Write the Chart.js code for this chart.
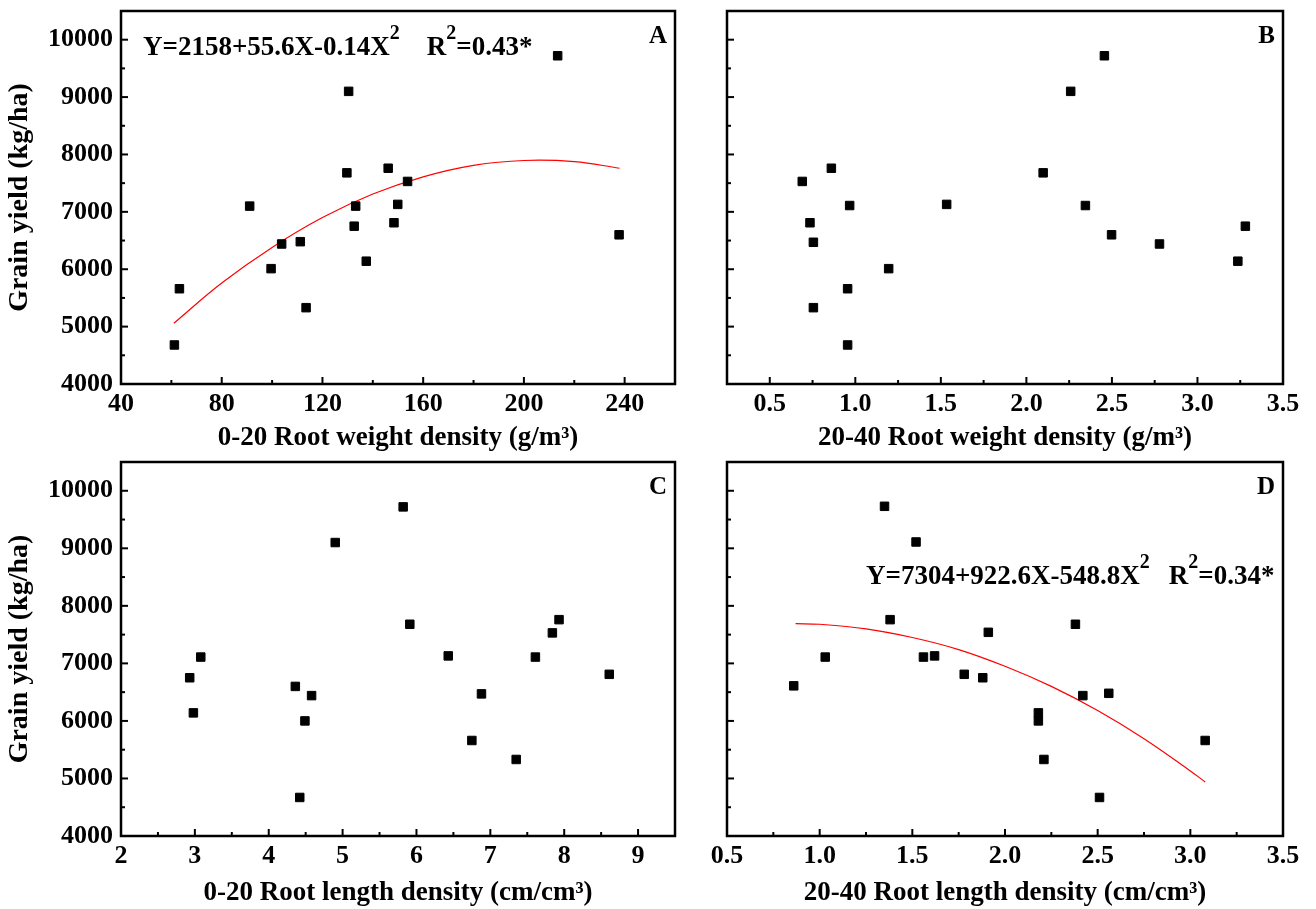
<!DOCTYPE html>
<html>
<head>
<meta charset="utf-8">
<title>Grain yield vs root density</title>
<script src="https://cdn.jsdelivr.net/npm/chart.js@4.4.1/dist/chart.umd.min.js"></script>
<style>
  html, body { margin: 0; padding: 0; background: #fff; }
  #wrap { position: relative; width: 1316px; height: 909px; overflow: hidden; }
  canvas { position: absolute; }
</style>
</head>
<body>
<div id="wrap">
  <canvas id="cA" width="690" height="460" style="left:0;top:0"></canvas>
  <canvas id="cB" width="626" height="460" style="left:690px;top:0"></canvas>
  <canvas id="cC" width="690" height="469" style="left:0;top:440px"></canvas>
  <canvas id="cD" width="626" height="469" style="left:690px;top:440px"></canvas>
</div>
<script>
// --- data ---
// A: 0-20 cm root weight density (g/m3)
const rwd020 = [61.2, 63.2, 91.1, 99.6, 103.8, 111.2, 113.5, 129.7, 130.4, 132.6, 133.2, 137.4, 146.1, 148.4, 149.9, 153.8, 213.4, 237.8];
const yieldA = [4680, 5660, 7100, 6010, 6440, 6480, 5330, 7680, 9100, 6750, 7100, 6140, 7760, 6810, 7130, 7530, 9720, 6600];
// B: 20-40 cm root weight density (g/m3)
const rwd2040 = [0.69, 0.735, 0.755, 0.755, 0.86, 0.955, 0.955, 0.967, 1.195, 1.534, 2.098, 2.259, 2.345, 2.456, 2.498, 2.778, 3.236, 3.28];
const yieldB = [7530, 6810, 6470, 5330, 7760, 5660, 4680, 7110, 6010, 7130, 7680, 9100, 7110, 9720, 6600, 6440, 6140, 6750];
// C: 0-20 cm root length density (cm/cm3)
const rld020 = [2.93, 2.98, 3.08, 4.36, 4.42, 4.49, 4.58, 4.90, 5.82, 5.91, 6.43, 6.75, 6.88, 7.35, 7.61, 7.84, 7.93, 8.61];
const yieldC = [6750, 6140, 7110, 6600, 4670, 6000, 6440, 9100, 9720, 7680, 7130, 5660, 6470, 5330, 7110, 7530, 7760, 6810];
// D: 20-40 cm root length density (cm/cm3)
const rld2040 = [0.86, 1.03, 1.35, 1.38, 1.52, 1.56, 1.62, 1.78, 1.88, 1.91, 2.18, 2.18, 2.21, 2.38, 2.42, 2.51, 2.56, 3.08];
const yieldD = [6610, 7110, 9730, 7760, 9110, 7110, 7130, 6810, 6750, 7540, 6140, 6000, 5330, 7680, 6440, 4670, 6480, 5660];

// red fitted curves
const fitAx = [61, 80, 100, 120, 140, 160, 180, 200, 220, 238];
const fitAy = [5060, 5760, 6380, 6900, 7310, 7610, 7810, 7895, 7875, 7760];
const fitDx = [0.87, 1.0, 1.25, 1.5, 1.75, 2.0, 2.25, 2.5, 2.75, 3.0, 3.08];
const fitDy = [7690, 7680, 7600, 7450, 7240, 6950, 6600, 6180, 5690, 5130, 4940];

// tick values
const yTicks = [4000, 5000, 6000, 7000, 8000, 9000, 10000];
const xTicksA = [40, 80, 120, 160, 200, 240];
const xTicksB = [0.5, 1.0, 1.5, 2.0, 2.5, 3.0, 3.5];
const xTicksC = [2, 3, 4, 5, 6, 7, 8, 9];
const xTicksD = [0.5, 1.0, 1.5, 2.0, 2.5, 3.0, 3.5];

const yTitle = 'Grain yield (kg/ha)';
const xTitles = ['0-20 Root weight density (g/m³)', '20-40 Root weight density (g/m³)',
                 '0-20 Root length density (cm/cm³)', '20-40 Root length density (cm/cm³)'];

const FONT = 'Liberation Serif';

function pts(xs, ys) {
  return xs.map((x, i) => ({ x: x, y: ys[i] }));
}

// frame around plot + inward major/minor ticks
const frameTicks = {
  id: 'frameTicks',
  afterDraw(chart) {
    const { ctx, chartArea: a, scales } = chart;
    ctx.save();
    ctx.strokeStyle = '#000';
    ctx.lineWidth = 2;
    function mark(scale, horiz, v, len) {
      const p = scale.getPixelForValue(v);
      ctx.beginPath();
      if (horiz) { ctx.moveTo(p, a.bottom); ctx.lineTo(p, a.bottom - len); }
      else { ctx.moveTo(a.left, p); ctx.lineTo(a.left + len, p); }
      ctx.stroke();
    }
    [[scales.x, true], [scales.y, false]].forEach(([s, h]) => {
      const vals = s.ticks.map(t => t.value);
      vals.forEach((v, i) => {
        mark(s, h, v, 7);
        if (i < vals.length - 1) mark(s, h, (v + vals[i + 1]) / 2, 4);
      });
    });
    ctx.lineWidth = 2.5;
    ctx.strokeRect(a.left, a.top, a.right - a.left, a.bottom - a.top);
    ctx.restore();
  }
};

// panel letter and regression equation
const panelText = {
  id: 'panelText',
  afterDraw(chart, args, opts) {
    const { ctx, chartArea: a } = chart;
    ctx.save();
    ctx.fillStyle = '#000';
    ctx.textBaseline = 'alphabetic';
    ctx.font = 'bold 25px "' + FONT + '"';
    ctx.textAlign = 'right';
    ctx.fillText(opts.letter, a.right - 8, a.top + 32);
    if (opts.eq) {
      ctx.textAlign = 'left';
      let x = a.left + opts.eq.dx;
      const y = a.top + opts.eq.dy;
      opts.eq.parts.forEach(p => {
        if (p.gap) { x += p.gap; return; }
        ctx.font = p.sup ? 'bold 20px "' + FONT + '"' : 'bold 27px "' + FONT + '"';
        ctx.fillText(p.t, x, p.sup ? y - 16 : y);
        x += ctx.measureText(p.t).width;
      });
    }
    ctx.restore();
  }
};

function makeChart(id, cfg) {
  const tickFont = { family: FONT, size: 26, weight: 'bold' };
  const xTitleFont = { family: FONT, size: 27, weight: 'bold' };
  const yTitleFont = { family: FONT, size: 28, weight: 'bold' };
  new Chart(document.getElementById(id), {
    type: 'scatter',
    data: {
      datasets: [
        {
          data: pts(cfg.xs, cfg.ys),
          pointStyle: 'rect',
          pointRadius: 6,
          pointHoverRadius: 6,
          backgroundColor: '#000',
          borderColor: '#000',
          borderWidth: 1
        }
      ].concat(cfg.fit ? [{
        data: pts(cfg.fit[0], cfg.fit[1]),
        showLine: true,
        borderColor: '#ff0000',
        borderWidth: 1.2,
        pointRadius: 0,
        tension: 0.4
      }] : [])
    },
    options: {
      responsive: false,
      animation: false,
      devicePixelRatio: 1,
      layout: { padding: { top: cfg.top, right: cfg.right, left: 0, bottom: 0 } },
      plugins: {
        legend: { display: false },
        tooltip: { enabled: false },
        panelText: { letter: cfg.letter, eq: cfg.eq }
      },
      scales: {
        x: {
          type: 'linear',
          min: cfg.xmin, max: cfg.xmax,
          grid: { display: false, drawTicks: false },
          border: { display: false },
          afterBuildTicks: s => { s.ticks = cfg.xticks.map(v => ({ value: v })); },
          ticks: {
            padding: 5, font: tickFont, color: '#000', maxRotation: 0,
            autoSkip: false,
            callback: v => cfg.xfmt(v)
          },
          title: {
            display: true, text: cfg.xtitle, color: '#000',
            font: xTitleFont, padding: { top: 0, bottom: cfg.xtitlePad }
          },
          afterFit: s => { s.height = cfg.xh; s.paddingLeft = 0; s.paddingRight = 0; }
        },
        y: {
          type: 'linear',
          min: 4000, max: 10500,
          grid: { display: false, drawTicks: false },
          border: { display: false },
          afterBuildTicks: s => { s.ticks = yTicks.map(v => ({ value: v })); },
          ticks: {
            padding: 8, font: tickFont, color: '#000', display: cfg.ylabels,
            autoSkip: false,
            callback: v => String(v)
          },
          title: {
            display: cfg.ylabels, text: yTitle, color: '#000',
            font: yTitleFont, padding: { top: 3, bottom: 0 }
          },
          afterFit: s => { s.width = cfg.yw; s.paddingTop = 0; s.paddingBottom = 0; }
        }
      }
    },
    plugins: [frameTicks, panelText]
  });
}

makeChart('cA', {
  xs: rwd020, ys: yieldA, fit: [fitAx, fitAy], letter: 'A',
  eq: { dx: 22, dy: 44, parts: [{ t: 'Y=2158+55.6X-0.14X' }, { t: '2', sup: true }, { gap: 27 }, { t: 'R' }, { t: '2', sup: true }, { t: '=0.43*' }] },
  xmin: 40, xmax: 260, xticks: xTicksA, xfmt: v => String(v), xtitle: xTitles[0],
  top: 11, right: 15, yw: 121, xh: 76, xtitlePad: 6, ylabels: true
});
makeChart('cB', {
  xs: rwd2040, ys: yieldB, letter: 'B',
  xmin: 0.25, xmax: 3.5, xticks: xTicksB, xfmt: v => v.toFixed(1), xtitle: xTitles[1],
  top: 11, right: 33, yw: 37, xh: 76, xtitlePad: 6, ylabels: false
});
makeChart('cC', {
  xs: rld020, ys: yieldC, letter: 'C',
  xmin: 2, xmax: 9.5, xticks: xTicksC, xfmt: v => String(v), xtitle: xTitles[2],
  top: 22, right: 15, yw: 121, xh: 73, xtitlePad: 0, ylabels: true
});
makeChart('cD', {
  xs: rld2040, ys: yieldD, fit: [fitDx, fitDy], letter: 'D',
  eq: { dx: 139, dy: 122, parts: [{ t: 'Y=7304+922.6X-548.8X' }, { t: '2', sup: true }, { gap: 19 }, { t: 'R' }, { t: '2', sup: true }, { t: '=0.34*' }] },
  xmin: 0.5, xmax: 3.5, xticks: xTicksD, xfmt: v => v.toFixed(1), xtitle: xTitles[3],
  top: 22, right: 33, yw: 37, xh: 73, xtitlePad: 0, ylabels: false
});
</script>
</body>
</html>
